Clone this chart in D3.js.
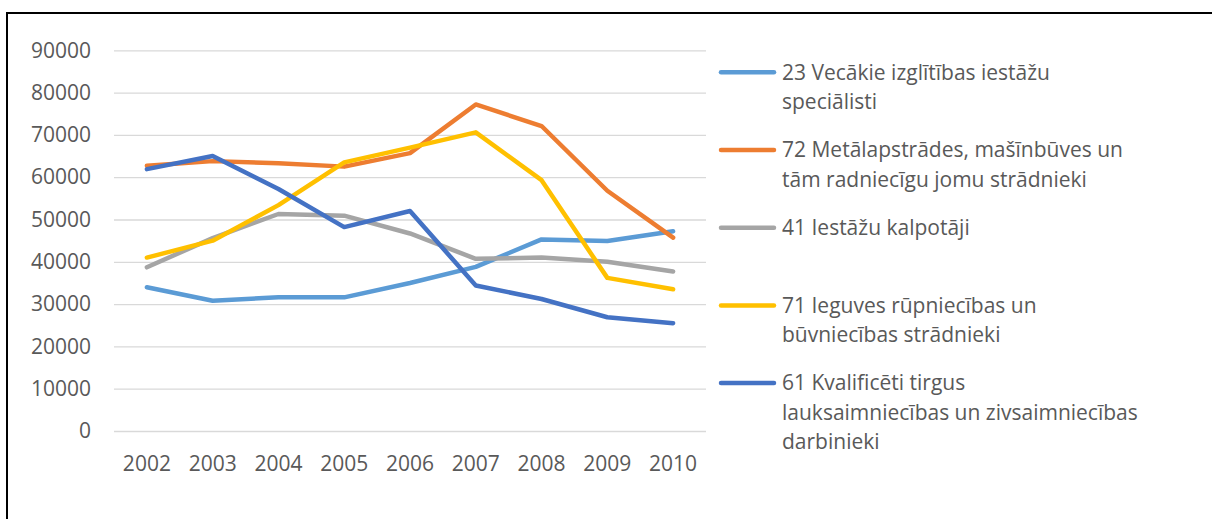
<!DOCTYPE html>
<html>
<head>
<meta charset="utf-8">
<script src="https://cdn.jsdelivr.net/npm/d3@7"></script>
<style>
  html, body { margin: 0; padding: 0; background: #fff; }
  svg { display: block; }
</style>
</head>
<body>
<div id="chart"></div>
<script>
// ─── Data ─────────────────────────────────────────────────────────────────────
const years = ['2002', '2003', '2004', '2005', '2006', '2007', '2008', '2009', '2010']
const yTicks = [0, 10000, 20000, 30000, 40000, 50000, 60000, 70000, 80000, 90000]

const seriesNames = [
  '23 Vecākie izglītības iestāžu speciālisti',
  '72 Metālapstrādes, mašīnbūves un tām radniecīgu jomu strādnieki',
  '41 Iestāžu kalpotāji',
  '71 Ieguves rūpniecības un būvniecības strādnieki',
  '61 Kvalificēti tirgus lauksaimniecības un zivsaimniecības darbinieki',
]
// legend text as wrapped in the original
const legendLines = [
  ['23 Vecākie izglītības iestāžu', 'speciālisti'],
  ['72 Metālapstrādes, mašīnbūves un', 'tām radniecīgu jomu strādnieki'],
  ['41 Iestāžu kalpotāji'],
  ['71 Ieguves rūpniecības un', 'būvniecības strādnieki'],
  ['61 Kvalificēti tirgus', 'lauksaimniecības un zivsaimniecības', 'darbinieki'],
]

const s23 = [34000, 30800, 31600, 31600, 35000, 38800, 45300, 44900, 47200]
const s72 = [62700, 63800, 63300, 62500, 65700, 77200, 72100, 56800, 45700]
const s41 = [38700, 45600, 51300, 50900, 46700, 40700, 41000, 40000, 37700]
const s71 = [41000, 45000, 53400, 63500, 67000, 70600, 59300, 36200, 33500]
const s61 = [61900, 65000, 57200, 48200, 52000, 34400, 31200, 26900, 25500]

const seriesValues = [s23, s72, s41, s71, s61]
const seriesColors = ['#5B9BD5', '#ED7D31', '#A5A5A5', '#FFC000', '#4472C4']

// ─── Layout ───────────────────────────────────────────────────────────────────
const W = 1212, H = 519
const plot = { left: 114, right: 706, top: 50.3, bottom: 431 }
const FONT = '"Open Sans", "Noto Sans", sans-serif'
const TEXT = '#595959'

const svg = d3.select('#chart').append('svg')
  .attr('width', W)
  .attr('height', H)

// frame: only top and left edges show in the crop
svg.append('line')
  .attr('x1', 7).attr('x2', W).attr('y1', 13).attr('y2', 13)
  .attr('stroke', '#000').attr('stroke-width', 2)
svg.append('line')
  .attr('x1', 7).attr('x2', 7).attr('y1', 12).attr('y2', H)
  .attr('stroke', '#000').attr('stroke-width', 2)

// ── Scales ────────────────────────────────────────────────────────────────────
const x = d3.scaleBand()
  .domain(years)
  .range([plot.left, plot.right])

const y = d3.scaleLinear()
  .domain([0, 90000])
  .range([plot.bottom, plot.top])

// ── Gridlines + y labels ──────────────────────────────────────────────────────
const yAxis = svg.append('g')
  .attr('transform', `translate(${plot.left},0)`)
  .call(d3.axisLeft(y)
    .tickValues(yTicks)
    .tickFormat(d3.format('d'))
    .tickSize(-(plot.right - plot.left))
    .tickPadding(23))

yAxis.select('.domain').remove()
yAxis.selectAll('.tick line')
  .attr('stroke', '#D9D9D9')
  .attr('stroke-width', 1.3)
yAxis.selectAll('.tick text')
  .attr('fill', TEXT)
  .attr('font-family', FONT)
  .attr('font-size', 21)

// ── x labels ──────────────────────────────────────────────────────────────────
const xAxis = svg.append('g')
  .attr('transform', `translate(0,${plot.bottom})`)
  .call(d3.axisBottom(x).tickSize(0).tickPadding(33))

xAxis.select('.domain').remove()
xAxis.selectAll('.tick text')
  .attr('fill', TEXT)
  .attr('font-family', FONT)
  .attr('font-size', 21)
  .attr('dy', '0.32em')

// ── Lines ─────────────────────────────────────────────────────────────────────
const line = d3.line()
  .x((d, i) => x(years[i]) + x.bandwidth() / 2)
  .y(d => y(d))

svg.append('g')
  .selectAll('path')
  .data(seriesValues)
  .join('path')
  .attr('d', d => line(d))
  .attr('fill', 'none')
  .attr('stroke', (d, i) => seriesColors[i])
  .attr('stroke-width', 4.5)
  .attr('stroke-linecap', 'round')
  .attr('stroke-linejoin', 'round')

// ── Legend ────────────────────────────────────────────────────────────────────
const legend = { x: 721, lineLen: 53, textX: 782, top: 72.3, step: 77.7, lineH: 29.5 }

const item = svg.append('g')
  .selectAll('g')
  .data(seriesNames)
  .join('g')
  .attr('transform', (d, i) => `translate(0,${legend.top + i * legend.step})`)

item.append('line')
  .attr('x1', legend.x)
  .attr('x2', legend.x + legend.lineLen)
  .attr('stroke', (d, i) => seriesColors[i])
  .attr('stroke-width', 4.5)
  .attr('stroke-linecap', 'round')

item.append('text')
  .attr('fill', TEXT)
  .attr('font-family', FONT)
  .attr('font-size', 21)
  .selectAll('tspan')
  .data((d, i) => legendLines[i])
  .join('tspan')
  .attr('x', legend.textX)
  .attr('y', (d, j) => j * legend.lineH)
  .attr('dy', '0.35em')
  .text(d => d)
</script>
</body>
</html>
